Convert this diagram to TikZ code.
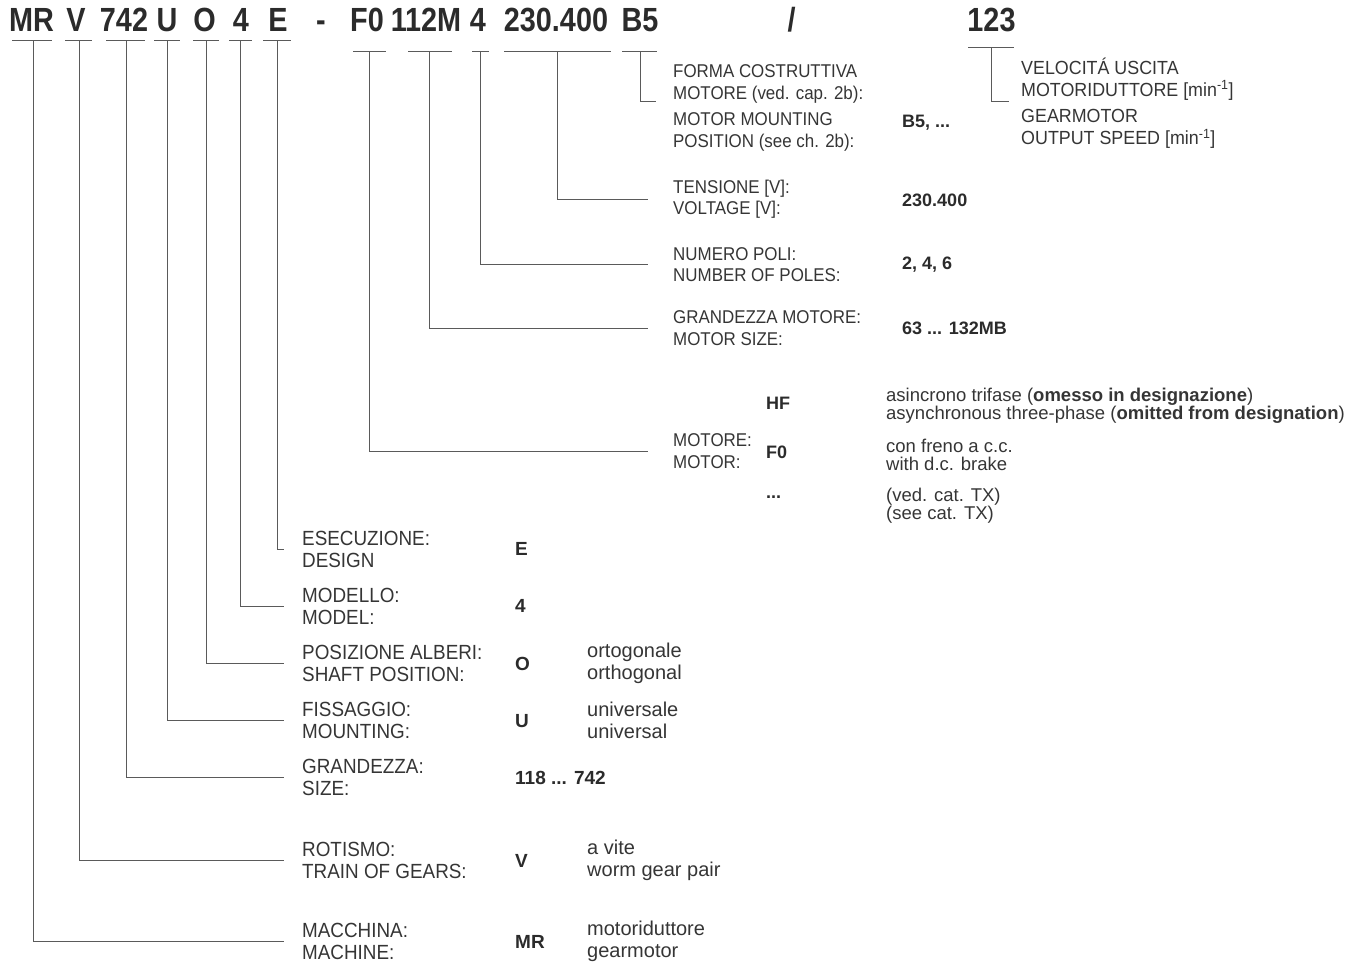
\documentclass[tikz,border=0pt]{standalone}
\usepackage{fontspec}
\setmainfont{Liberation Sans}
\newfontfamily\hdrfont[FakeStretch=0.86]{Liberation Sans}
\newfontfamily\lblfont[FakeStretch=0.915]{Liberation Sans}
\newfontfamily\lblLfont[FakeStretch=0.92]{Liberation Sans}
\newfontfamily\velfont[FakeStretch=0.94]{Liberation Sans}
\definecolor{txt}{HTML}{2B2B2B}
\definecolor{lbltxt}{HTML}{353535}
\definecolor{linec}{HTML}{5A5A5A}
\tikzset{
  hdr/.style={font=\hdrfont\bfseries\fontsize{33.5}{36}\selectfont, inner sep=0pt, anchor=base, text=txt},
  lbl/.style={font=\lblfont\fontsize{18.5}{21.5}\selectfont, align=left, anchor=west, inner sep=0pt, text=lbltxt},
  lblL/.style={font=\lblLfont\fontsize{20.5}{22}\selectfont, align=left, anchor=west, inner sep=0pt, text=lbltxt},
  lblV/.style={font=\velfont\fontsize{19}{22}\selectfont, align=left, anchor=west, inner sep=0pt, text=lbltxt},
  val/.style={font=\bfseries\fontsize{18}{21}\selectfont, anchor=west, inner sep=0pt, text=txt},
  valL/.style={font=\bfseries\fontsize{19}{21}\selectfont, anchor=west, inner sep=0pt, text=txt},
  desc/.style={font=\fontsize{20}{22}\selectfont, align=left, anchor=west, inner sep=0pt, text=lbltxt},
  wdesc/.style={font=\fontsize{18.5}{18}\selectfont, align=left, anchor=west, inner sep=0pt, text=lbltxt},
  tick/.style={draw=linec, line width=1pt},
  conn/.style={draw=linec, line width=1pt},
}
\begin{document}
\begin{tikzpicture}[x=1pt,y=-1pt]
\useasboundingbox (0,0) rectangle (1368,963);
% header codes
\node[hdr] (hMR) at (31.5,32) {MR};
\node[hdr] (hV) at (76,32) {V};
\node[hdr] (h742) at (124,32) {742};
\node[hdr] (hU) at (167,32) {U};
\node[hdr] (hO) at (204.5,32) {O};
\node[hdr] (h4) at (241,32) {4};
\node[hdr] (hE) at (278,32) {E};
\node[hdr] (hdash) at (321,32) {-};
\node[hdr] (hF0) at (367,32) {F0};
\node[hdr] (h112) at (426,32) {112M};
\node[hdr] (hP) at (478,32) {4};
\node[hdr] (h230) at (556,32) {230.400};
\node[hdr] (hB5) at (640,32) {B5};
\node[hdr] (hslash) at (791.5,32) {/};
\node[hdr] (h123) at (991.5,32) {123};
% tick coordinates
\coordinate (tMR) at (33,41);
\coordinate (tV) at (79,41);
\coordinate (t742) at (126,41);
\coordinate (tU) at (167,41);
\coordinate (tO) at (206,41);
\coordinate (t4) at (240,41);
\coordinate (tE) at (277,41);
\coordinate (tF0) at (369,52);
\coordinate (t112) at (429,52);
\coordinate (tP) at (480,52);
\coordinate (t230) at (557,52);
\coordinate (tB5) at (640,52);
\coordinate (t123) at (991,48);
% ticks
\draw[tick] (12,41) -- (52,41);
\draw[tick] (65,41) -- (92,41);
\draw[tick] (106,41) -- (145,41);
\draw[tick] (154,41) -- (180,41);
\draw[tick] (193,41) -- (219,41);
\draw[tick] (229,41) -- (252,41);
\draw[tick] (263,41) -- (291,41);
\draw[tick] (353,52) -- (386,52);
\draw[tick] (408,52) -- (452,52);
\draw[tick] (472,52) -- (489,52);
\draw[tick] (504,52) -- (611,52);
\draw[tick] (622,52) -- (657,52);
\draw[tick] (968,48) -- (1014,48);
% right column labels
\node[lbl] (lFormaIT) at (673,84) {FORMA COSTRUTTIVA\\MOTORE (ved. cap. 2b):};
\node[lbl] (lFormaEN) at (673,132) {MOTOR MOUNTING\\POSITION (see ch. 2b):};
\node[val] (vB5) at (902,123) {B5, ...};
\node[lblV] (lVelIT) at (1021,79) {VELOCITÁ USCITA\\MOTORIDUTTORE [min\textsuperscript{-1}]};
\node[lblV] (lVelEN) at (1021,129) {GEARMOTOR\\OUTPUT SPEED [min\textsuperscript{-1}]};
\node[lbl] (lTens) at (673,199) {TENSIONE [V]:\\VOLTAGE [V]:};
\node[val] (vTens) at (902,200) {230.400};
\node[lbl] (lPoli) at (673,264.5) {NUMERO POLI:\\NUMBER OF POLES:};
\node[val] (vPoli) at (902,265) {2, 4, 6};
\node[lbl] (lGMot) at (673,328) {GRANDEZZA MOTORE:\\MOTOR SIZE:};
\node[val] (vGMot) at (902,328) {63 ... 132MB};
\node[lbl] (lMot) at (673,451) {MOTORE:\\MOTOR:};
\node[val] (vHF) at (766,403) {HF};
\node[val] (vF0) at (766,452) {F0};
\node[val] (vDots) at (766,497) {...};
\node[wdesc] (dHF) at (886,405.5) {asincrono trifase (\textbf{omesso in designazione})\\asynchronous three-phase (\textbf{omitted from designation})};
\node[wdesc] (dF0) at (886,455) {con freno a c.c.\\with d.c. brake};
\node[wdesc] (dDots) at (886,505.5) {(ved. cat. TX)\\(see cat. TX)};
% left column labels
\node[lblL] (lE) at (302,549) {ESECUZIONE:\\DESIGN};
\node[valL] (vE) at (515,549) {E};
\node[lblL] (l4) at (302,606) {MODELLO:\\MODEL:};
\node[valL] (v4) at (515,606) {4};
\node[lblL] (lO) at (302,663.5) {POSIZIONE ALBERI:\\SHAFT POSITION:};
\node[valL] (vO) at (515,664) {O};
\node[desc] (dO) at (587,663.5) {ortogonale\\orthogonal};
\node[lblL] (lU) at (302,720.5) {FISSAGGIO:\\MOUNTING:};
\node[valL] (vU) at (515,721) {U};
\node[desc] (dU) at (587,720.5) {universale\\universal};
\node[lblL] (l742) at (302,777.5) {GRANDEZZA:\\SIZE:};
\node[valL] (v742) at (515,778) {118 ... 742};
\node[lblL] (lV) at (302,860.5) {ROTISMO:\\TRAIN OF GEARS:};
\node[valL] (vV) at (515,861) {V};
\node[desc] (dV) at (587,860.5) {a vite\\worm gear pair};
\node[lblL] (lMR) at (302,941.5) {MACCHINA:\\MACHINE:};
\node[valL] (vMR) at (515,942) {MR};
\node[desc] (dMR) at (587,941.5) {motoriduttore\\gearmotor};
% connectors
\draw[conn] (tMR) |- ([xshift=-18pt]lMR.west);
\draw[conn] (tV) |- ([xshift=-18pt]lV.west);
\draw[conn] (t742) |- ([xshift=-18pt]l742.west);
\draw[conn] (tU) |- ([xshift=-18pt]lU.west);
\draw[conn] (tO) |- ([xshift=-18pt]lO.west);
\draw[conn] (t4) |- ([xshift=-18pt]l4.west);
\draw[conn] (tE) |- ([xshift=-18pt]lE.west);
\draw[conn] (tF0) |- ([xshift=-25pt]lMot.west);
\draw[conn] (t112) |- ([xshift=-25pt]lGMot.west);
\draw[conn] (tP) |- ([xshift=-25pt]lPoli.west);
\draw[conn] (t230) |- ([xshift=-25pt]lTens.west);
\draw[conn] (tB5) |- ([xshift=-17pt,yshift=-18pt]lFormaIT.west);
\draw[conn] (t123) |- ([xshift=-12pt,yshift=-23pt]lVelIT.west);
\end{tikzpicture}
\end{document}
